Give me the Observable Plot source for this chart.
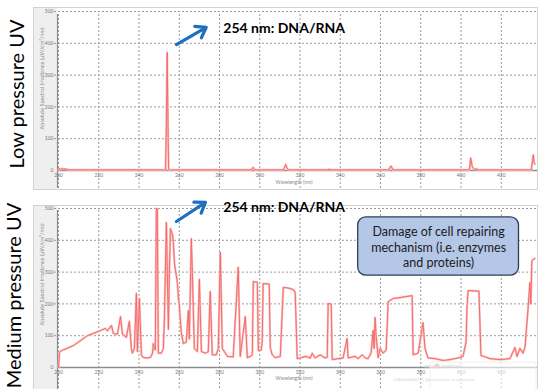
<!DOCTYPE html>
<html><head><meta charset="utf-8">
<script src="https://cdn.jsdelivr.net/npm/d3@7"></script>
<script src="https://cdn.jsdelivr.net/npm/@observablehq/plot@0.6"></script>
<style>
body{margin:0;background:#fff;}
#chart{width:543px;height:389px;position:relative;overflow:hidden;}
#chart svg{display:block;}
</style></head><body><div id="chart"></div>
<script>
// ---------- data ----------
const xTicks = [200,220,240,260,280,300,320,340,360,380,400,420];
const yTicks = [0,100,200,300,400,500];

// Low pressure UV lamp spectrum (wavelength nm, irradiance)
const lpNm  = [200,200.4,201,201.8,202.6,203.5,204.5,206,210,230,253.2,253.6,254.0,254.3,254.7,255.1,270,295.8,296.7,297.6,311.8,312.9,313.4,314.2,333.8,334.5,335.2,364,365.2,366.2,404.2,404.8,405.6,406.6,407.9,408.4,409,434.9,435.9,436.3,436.7];
const lpVal = [0,7,3,6,4,5,3,2,2,2,2,150,371,200,3,2,2,2,10,2,2,19,10,2,2,4,2,2,14,2,2,39,12,3,5,2,2,2,49,25,20];

// Medium pressure UV lamp spectrum
const mpNm  = [200,200.5,201.5,207.4,214.4,220.8,223.3,224.3,226.3,227.3,229.3,230.8,231.8,233.7,235.2,236.2,236.7,237.7,238.7,239.2,240.2,241.2,242.2,244.2,245.7,246.7,247.1,248.1,248.6,249.1,249.6,251.1,252.1,252.6,253.6,254.6,255.1,255.6,256.6,257.1,257.6,259.1,259.6,260.0,261.0,262.0,263.5,264.5,265.0,266.0,266.5,267.5,269.0,270.0,271.0,273.0,274.4,275.4,276.4,278.4,279.4,280.4,281.4,283.9,286.8,289.3,290.3,292.8,293.8,295.3,296.3,296.8,298.8,299.3,300.7,301.2,301.7,304.7,305.2,306.2,307.7,310.2,311.7,314.1,316.6,317.6,318.6,320.1,322.6,325.1,326.1,327.5,330.0,332.5,333.5,334.0,335.5,336.0,339.0,341.4,343.4,343.9,347.4,348.9,350.9,352.4,353.8,355.3,356.3,356.8,357.3,357.8,358.8,359.8,361.3,362.8,363.8,366.3,369.7,375.7,376.2,378.7,381.1,382.1,383.6,387.1,391.1,394.5,398.5,401.0,402.5,403.0,403.5,408.9,409.9,414.4,419.4,424.3,426.8,427.8,429.3,430.8,431.8,433.3,434.2,434.7,435.2,436.7];
const mpVal = [0,48,53,69,100,116,123,115,132,107,105,160,105,95,145,60,45,60,233,50,217,40,31,30,32,45,75,55,500,500,45,45,60,150,456,120,300,437,420,390,330,264,215,200,110,75,80,179,90,405,300,60,50,277,50,45,50,239,40,40,60,362,60,35,33,315,35,160,31,35,40,270,268,53,55,80,264,262,63,40,31,35,252,250,245,236,28,30,35,30,45,30,40,30,32,201,200,25,28,30,91,30,35,28,40,30,28,45,116,60,157,100,31,60,45,55,207,217,220,226,40,45,141,60,30,28,22,25,30,35,80,195,242,240,38,28,25,28,63,35,60,45,65,185,267,200,336,343];

// texts
const panelLabels = ["Low pressure UV", "Medium pressure UV"];
const noteText = "254 nm: DNA/RNA";
const boxText = "Damage of cell repairing\nmechanism (i.e. enzymes\nand proteins)";
const xTitle = "Wavelength (nm)";
const yTitle = "Absolute Spectral Irradiance (\u03bcW/cm\u00b2/nm)";
const warnTitle = "DEVICE_WARNING";
const warnText = "USB4U00481_1 Spectrometer is saturated.";

// annotation anchors (data units: nm, irradiance)
const arrowTop = [{x1:258.6, y1:396, x2:273.4, y2:450}];
const arrowBottom = [{x1:258.6, y1:459, x2:273.0, y2:519}];
const noteTop = [{x:281.9, y:448}];
const noteBottom = [{x:281.9, y:503}];
const boxBottom = [{x1:348.9, x2:428.8, y1:289, y2:472}];

// ---------- helpers ----------
const toRows = (xs, ys) => xs.map((x, i) => ({nm: x, v: ys[i]}));
const FONT = "Lato, 'Open Sans', sans-serif";
const W = 543;

function chrome(frameTop, frameBottom) {
  return (index, scales, values, dim) => {
    const g = d3.create("svg:g");
    const left = 33, right = 537;
    g.append("rect").attr("x", left + 0.5).attr("y", frameTop + 0.5)
      .attr("width", right - left).attr("height", frameBottom - frameTop)
      .attr("fill", "#fff").attr("stroke", "#d2d2d2");
    g.append("rect").attr("x", left + 1).attr("y", frameTop + 1)
      .attr("width", dim.marginLeft - 2 - left).attr("height", frameBottom - frameTop - 1)
      .attr("fill", "#efefef");
    return g.node();
  };
}

function warnBox() {
  return (index, scales, values, dim) => {
    const g = d3.create("svg:g");
    const t = dim.height - 27;
    g.append("rect").attr("x", 430).attr("y", t).attr("width", 106).attr("height", 30)
      .attr("rx", 3).attr("fill", "#fff").attr("fill-opacity", 0.6).attr("stroke", "#f0f0f0");
    g.append("circle").attr("cx", 437).attr("cy", t + 4).attr("r", 2.6).attr("fill", "#f6d0d0");
    g.append("text").attr("x", 443).attr("y", t + 5.5).attr("font-size", 4.2).attr("fill", "#d6d6d6")
      .attr("font-family", FONT).text(warnTitle);
    g.append("text").attr("x", 434).attr("y", t + 19).attr("font-size", 4.3).attr("fill", "#d6d6d6")
      .attr("font-family", FONT).text(warnText);
    return g.node();
  };
}

function panel(o) {
  const rows = toRows(o.nm, o.val);
  const zeroY = o.height - o.marginBottom;
  return Plot.plot({
    width: W, height: o.height,
    marginLeft: 58, marginRight: 8, marginTop: o.marginTop, marginBottom: o.marginBottom,
    style: {background: "transparent", fontFamily: FONT, overflow: "visible"},
    x: {domain: [200, 437]},
    y: {domain: [0, 500]},
    marks: [
      chrome(o.frameTop, o.frameBottom),
      Plot.ruleX(xTicks, {stroke: "#9a9a9a", strokeOpacity: 1, strokeDasharray: "2,2", insetTop: o.marginTop - o.frameTop - 1, insetBottom: -(o.frameBottom - zeroY - 1)}),
      Plot.ruleY(yTicks.filter(d => d > 0), {stroke: "#9a9a9a", strokeOpacity: 1, strokeDasharray: "2,2", insetLeft: -4, insetRight: -2}),
      Plot.axisX({ticks: xTicks, tickSize: 0, tickPadding: 3, fontSize: 5, fill: "#777", label: null, tickFormat: d => d}),
      Plot.axisY({ticks: yTicks, tickSize: 0, tickPadding: 5, fontSize: 5, fill: "#777", label: null, tickFormat: d => d}),
      Plot.ruleY([0], {stroke: "#8c8c8c", strokeWidth: 1.5, insetLeft: -1, insetRight: -2}),
      Plot.ruleX([200], {stroke: "#8c8c8c", strokeWidth: 1.2, dx: -1, insetTop: o.marginTop - o.frameTop - 1, insetBottom: -(o.frameBottom - zeroY - 1)}),
      Plot.line(rows, {x: "nm", y: "v", stroke: "#ffbcbc", strokeWidth: 2.2, curve: "linear"}),
      Plot.line(rows, {x: "nm", y: "v", stroke: "#f26464", strokeWidth: 0.9, curve: "linear"}),
      Plot.text([xTitle], {frameAnchor: "bottom-left", dx: 217, dy: o.xTitleDy, fontSize: 5, fill: "#888", textAnchor: "start"}),
      Plot.text([yTitle], {frameAnchor: "left", textAnchor: "middle", dx: -16, dy: o.yTitleDy, rotate: -90, fontSize: 5.5, fill: "#888"}),
      Plot.text([o.label], {frameAnchor: "left", textAnchor: "middle", dx: o.labelDx, dy: o.labelDy, rotate: -90, fontSize: o.labelSize, fill: "#000", fontWeight: 400}),
      Plot.arrow(o.arrow, {x1: "x1", y1: "y1", x2: "x2", y2: "y2", stroke: "#1f6fc0", strokeWidth: 3.2, headLength: 9, headAngle: 70}),
      Plot.text(o.note, {x: "x", y: "y", text: () => noteText, textAnchor: "start", fontSize: 14, fontWeight: 700, fill: "#000"}),
      ...(o.box ? [
        Plot.rect(o.box, {x1: "x1", x2: "x2", y1: "y1", y2: "y2", fill: "#b4c7e7", stroke: "#2e3f55", strokeWidth: 1.3, rx: 8}),
        Plot.text(o.box, {x: d => (d.x1 + d.x2) / 2, y: d => (d.y1 + d.y2) / 2, text: () => boxText, fontSize: 12.5, lineHeight: 1.25, fill: "#1a1a1a"}),
        warnBox()
      ] : [])
    ]
  });
}

const topPanel = panel({
  nm: lpNm, val: lpVal, height: 195, marginTop: 11, marginBottom: 25,
  frameTop: 7, frameBottom: 189, xTitleDy: 13, yTitleDy: -12.5,
  label: panelLabels[0], labelDx: -40.5, labelDy: 3, labelSize: 20,
  arrow: arrowTop, note: noteTop
});
const bottomPanel = panel({
  nm: mpNm, val: mpVal, height: 194, marginTop: 13, marginBottom: 22,
  frameTop: 10, frameBottom: 196, xTitleDy: 12, yTitleDy: -13.5,
  label: panelLabels[1], labelDx: -43.5, labelDy: 7.5, labelSize: 20,
  arrow: arrowBottom, note: noteBottom, box: boxBottom
});
const chartEl = document.getElementById("chart");
chartEl.append(topPanel, bottomPanel);
d3.select(bottomPanel).selectAll("rect").filter(function(){ return d3.select(this).attr("fill") === "#b4c7e7"; }).attr("rx", 8).attr("ry", 8);
</script></body></html>
